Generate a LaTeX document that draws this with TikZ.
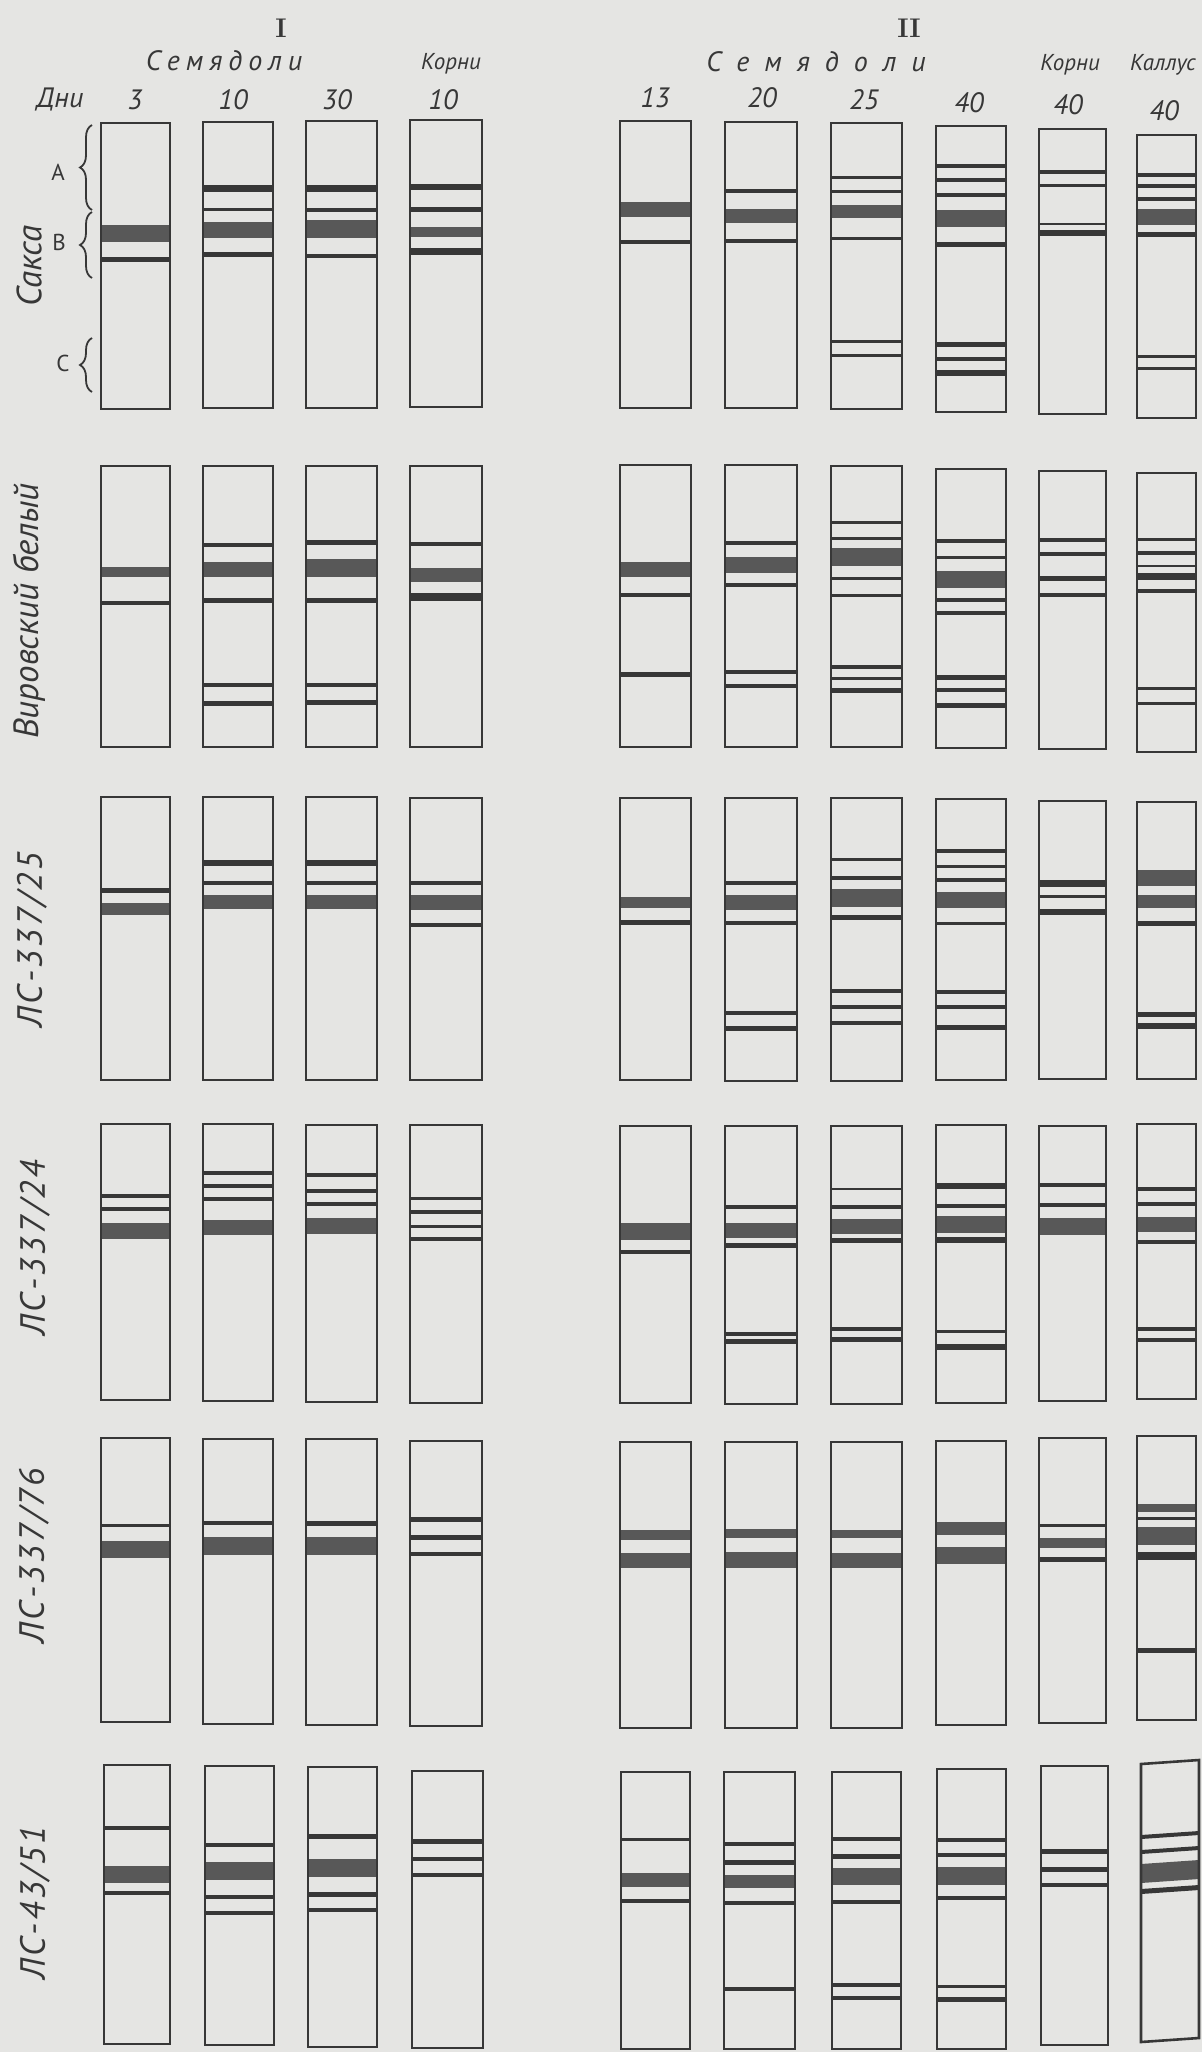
\documentclass[tikz,border=0pt]{standalone}
\usepackage{fontspec}
\newfontfamily\lab{PT Sans}
\usetikzlibrary{decorations.pathreplacing}
\definecolor{paper}{RGB}{229,229,227}
\definecolor{ink}{RGB}{55,55,55}
\definecolor{bk}{RGB}{88,88,88}
\colorlet{ln}{ink}
\tikzset{
  tubeline/.style={draw=ink, line width=2.6pt},
  hd/.style={font=\lab\itshape\fontsize{28}{30}\selectfont, text=ink, inner sep=0pt, anchor=base},
  hdsmall/.style={font=\lab\itshape\fontsize{23}{25}\selectfont, text=ink, inner sep=0pt, anchor=base},
  rowlab/.style={font=\lab\itshape\fontsize{35}{37}\selectfont, text=ink, inner sep=0pt, rotate=90},
  zone/.style={font=\lab\fontsize{23}{25}\selectfont, text=ink, inner sep=0pt},
  brc/.style={draw=ink, line width=1.8pt, decorate, decoration={brace, amplitude=12pt}},
  roman/.style={font=\bfseries\fontsize{27}{29}\selectfont, text=ink, inner sep=0pt, anchor=base}
}
% straight tube: x1, x2, top, bottom, bands a/b/colour
\newcommand\gtube[5]{%
  \foreach \a/\b/\c in {#5}{\fill[fill=\c] (#1,\a) rectangle (#2,\b);}%
  \draw[tubeline] (#1,#3) rectangle (#2,#4);}
% sheared tube: right side raised by #5
\newcommand\stube[6]{%
  \foreach \a/\b/\c in {#6}{\fill[fill=\c] (#1,\a) -- (#2,{\a-#5}) -- (#2,{\b-#5}) -- (#1,\b) -- cycle;}%
  \draw[tubeline] (#1,#3) -- (#2,{#3-#5}) -- (#2,{#4-#5}) -- (#1,#4) -- cycle;}
\newcommand\lsp{\hspace{6pt}}
\newcommand\wlsp{\hspace{15pt}}
\newcommand\lk{\kern2.5pt}
\begin{document}
\begin{tikzpicture}[x=1pt,y=-1pt]
\useasboundingbox (0,0) rectangle (1202,2052);
\fill[paper] (0,0) rectangle (1202,2052);
% header
\node[roman] (r1) at (281,38) {I};
\node[roman] (r2) at (909,38) {II};
\node[hd] (s1) at (224,71) {С\lsp е\lsp м\lsp я\lsp д\lsp о\lsp л\lsp и};
\node[hd] (s2) at (816,72) {С\wlsp е\wlsp м\wlsp я\wlsp д\wlsp о\wlsp л\wlsp и};
\node[hdsmall] (k1) at (451,70) {Корни};
\node[hdsmall] (k2) at (1070,71) {Корни};
\node[hdsmall] (k3) at (1163,71) {Каллус};
\node[hd] (dn) at (60,108) {Дни};
\node[hd] (d1) at (135,110) {3};
\node[hd] (d2) at (233,110) {10};
\node[hd] (d3) at (337,110) {30};
\node[hd] (d4) at (443,110) {10};
\node[hd] (d5) at (655,108) {13};
\node[hd] (d6) at (762,108) {20};
\node[hd] (d7) at (864,110) {25};
\node[hd] (d8) at (969,113) {40};
\node[hd] (d9) at (1068,115) {40};
\node[hd] (d10) at (1164,121) {40};
% zones
\draw[brc] (92,210) -- (92,125);
\draw[brc] (92,278) -- (92,212);
\draw[brc] (92,392) -- (92,338);
\node[zone] (za) at (58,172) {A};
\node[zone] (zb) at (59,242) {B};
\node[zone] (zc) at (63,363) {C};
% row labels
\node[rowlab] (l1) at (29,266) {Сакса};
\node[rowlab] (l2) at (29,611) {Вировский белый};
\node[rowlab] (l3) at (32,940) {Л\lk С\lk -\lk 3\lk 3\lk 7\lk /\lk 2\lk 5};
\node[rowlab] (l4) at (35,1248) {Л\lk С\lk -\lk 3\lk 3\lk 7\lk /\lk 2\lk 4};
\node[rowlab] (l5) at (34,1556) {Л\lk С\lk -\lk 3\lk 3\lk 7\lk /\lk 7\lk 6};
\node[rowlab] (l6) at (35,1903) {Л\lk С\lk -\lk 4\lk 3\lk /\lk 5\lk 1};
% ---- row 1
\gtube{101}{170}{123}{409}{225/242/bk, 257/262/ln}
\gtube{203}{273}{122}{408}{185/192/ln, 208/211/ln, 222/238/bk, 252/257/ln}
\gtube{306}{377}{121}{408}{185/192/ln, 208/212/ln, 220/238/bk, 254/258/ln}
\gtube{410}{482}{120}{407}{184/190/ln, 207/212/ln, 227/237/bk, 248/255/ln}
\gtube{620}{691}{121}{408}{202/217/bk, 240/244/ln}
\gtube{725}{797}{122}{408}{189/193/ln, 209/223/bk, 239/243/ln}
\gtube{831}{902}{123}{409}{176/179/ln, 190/193/ln, 205/218/bk, 237/240/ln, 340/343/ln, 354/357/ln}
\gtube{936}{1006}{126}{412}{164/168/ln, 178/182/ln, 193/197/ln, 210/227/bk, 242/247/ln, 342/347/ln, 357/361/ln, 370/376/ln}
\gtube{1039}{1106}{129}{414}{170/174/ln, 184/187/ln, 223/225/ln, 230/236/ln}
\gtube{1137}{1196}{135}{418}{173/177/ln, 184/188/ln, 197/201/ln, 209/225/bk, 232/237/ln, 355/358/ln, 367/370/ln}
% ---- row 2
\gtube{101}{170}{466}{747}{567/577/bk, 601/605/ln}
\gtube{203}{273}{466}{747}{543/547/ln, 562/577/bk, 598/603/ln, 683/687/ln, 701/706/ln}
\gtube{306}{377}{466}{747}{540/545/ln, 559/577/bk, 598/603/ln, 683/687/ln, 700/705/ln}
\gtube{410}{482}{466}{747}{542/546/ln, 568/582/bk, 593/601/ln}
\gtube{620}{691}{465}{747}{562/577/bk, 593/597/ln, 672/677/ln}
\gtube{725}{797}{465}{747}{541/545/ln, 557/573/bk, 583/587/ln, 670/674/ln, 684/688/ln}
\gtube{831}{902}{466}{747}{521/524/ln, 537/540/ln, 548/566/bk, 577/580/ln, 594/597/ln, 665/669/ln, 677/680/ln, 688/693/ln}
\gtube{936}{1006}{469}{748}{539/543/ln, 556/559/ln, 571/588/bk, 598/602/ln, 611/615/ln, 675/680/ln, 688/692/ln, 703/708/ln}
\gtube{1039}{1106}{471}{749}{538/542/ln, 552/556/ln, 576/581/ln, 593/597/ln}
\gtube{1137}{1196}{473}{752}{538/541/ln, 551/555/ln, 565/567/ln, 573/580/ln, 589/593/ln, 687/690/ln, 702/705/ln}
% ---- row 3
\gtube{101}{170}{797}{1080}{888/893/ln, 903/915/bk}
\gtube{203}{273}{797}{1080}{860/866/ln, 881/885/ln, 895/909/bk}
\gtube{306}{377}{797}{1080}{860/866/ln, 881/885/ln, 895/909/bk}
\gtube{410}{482}{798}{1080}{881/885/ln, 895/910/bk, 923/927/ln}
\gtube{620}{691}{798}{1080}{897/908/bk, 920/925/ln}
\gtube{725}{797}{798}{1081}{881/885/ln, 895/910/bk, 921/925/ln, 1011/1015/ln, 1026/1031/ln}
\gtube{831}{902}{798}{1081}{858/861/ln, 876/880/ln, 889/907/bk, 915/920/ln, 989/993/ln, 1005/1009/ln, 1021/1025/ln}
\gtube{936}{1006}{799}{1080}{849/853/ln, 865/868/ln, 878/882/ln, 892/908/bk, 922/925/ln, 990/994/ln, 1005/1009/ln, 1025/1030/ln}
\gtube{1039}{1106}{801}{1079}{880/887/ln, 895/898/ln, 909/915/ln}
\gtube{1137}{1196}{802}{1079}{870/886/bk, 895/908/bk, 921/926/ln, 1012/1017/ln, 1023/1029/ln}
% ---- row 4
\gtube{101}{170}{1124}{1400}{1194/1198/ln, 1207/1211/ln, 1223/1239/bk}
\gtube{203}{273}{1124}{1401}{1171/1175/ln, 1184/1188/ln, 1197/1201/ln, 1220/1235/bk}
\gtube{306}{377}{1125}{1402}{1173/1177/ln, 1189/1193/ln, 1202/1206/ln, 1218/1234/bk}
\gtube{410}{482}{1125}{1403}{1197/1200/ln, 1210/1214/ln, 1225/1228/ln, 1237/1241/ln}
\gtube{620}{691}{1126}{1403}{1223/1240/bk, 1250/1254/ln}
\gtube{725}{797}{1126}{1404}{1205/1209/ln, 1223/1238/bk, 1243/1248/ln, 1332/1336/ln, 1339/1344/ln}
\gtube{831}{902}{1126}{1404}{1188/1190/ln, 1205/1209/ln, 1219/1234/bk, 1238/1243/ln, 1327/1331/ln, 1337/1342/ln}
\gtube{936}{1006}{1125}{1403}{1183/1189/ln, 1204/1208/ln, 1216/1233/bk, 1237/1243/ln, 1330/1333/ln, 1344/1350/ln}
\gtube{1039}{1106}{1126}{1401}{1183/1187/ln, 1203/1207/ln, 1218/1235/bk}
\gtube{1137}{1196}{1124}{1399}{1187/1191/ln, 1202/1206/ln, 1217/1232/bk, 1240/1244/ln, 1327/1331/ln, 1338/1342/ln}
% ---- row 5
\gtube{101}{170}{1438}{1722}{1524/1527/ln, 1541/1558/bk}
\gtube{203}{273}{1439}{1724}{1521/1525/ln, 1537/1555/bk}
\gtube{306}{377}{1439}{1725}{1521/1526/ln, 1537/1555/bk}
\gtube{410}{482}{1441}{1726}{1517/1522/ln, 1535/1540/ln, 1552/1556/ln}
\gtube{620}{691}{1442}{1728}{1530/1540/bk, 1553/1568/bk}
\gtube{725}{797}{1442}{1728}{1529/1538/bk, 1552/1568/bk}
\gtube{831}{902}{1442}{1728}{1530/1538/bk, 1553/1568/bk}
\gtube{936}{1006}{1441}{1725}{1522/1535/bk, 1547/1564/bk}
\gtube{1039}{1106}{1438}{1723}{1524/1527/ln, 1538/1548/bk, 1557/1562/ln}
\gtube{1137}{1196}{1436}{1720}{1504/1512/bk, 1517/1520/ln, 1527/1545/bk, 1552/1560/ln, 1648/1653/ln}
% ---- row 6
\gtube{104}{170}{1765}{2044}{1826/1830/ln, 1866/1883/bk, 1891/1895/ln}
\gtube{205}{274}{1766}{2045}{1843/1847/ln, 1862/1880/bk, 1895/1899/ln, 1911/1915/ln}
\gtube{308}{377}{1767}{2047}{1834/1839/ln, 1859/1877/bk, 1892/1897/ln, 1908/1912/ln}
\gtube{412}{483}{1771}{2048}{1839/1844/ln, 1857/1861/ln, 1873/1877/ln}
\gtube{621}{690}{1772}{2049}{1838/1841/ln, 1873/1887/bk, 1899/1903/ln}
\gtube{724}{795}{1772}{2049}{1842/1846/ln, 1860/1865/ln, 1875/1888/bk, 1901/1905/ln, 1987/1991/ln}
\gtube{832}{901}{1772}{2049}{1837/1841/ln, 1854/1859/ln, 1868/1885/bk, 1900/1904/ln, 1983/1987/ln, 1996/2000/ln}
\gtube{937}{1006}{1769}{2049}{1838/1842/ln, 1853/1857/ln, 1867/1885/bk, 1896/1900/ln, 1985/1988/ln, 1997/2002/ln}
\gtube{1041}{1108}{1766}{2045}{1849/1854/ln, 1867/1872/ln, 1883/1887/ln}
\stube{1141}{1199}{1764}{2042}{4}{1835/1839/ln, 1850/1854/ln, 1864/1883/bk, 1889/1894/ln}
\end{tikzpicture}
\end{document}
